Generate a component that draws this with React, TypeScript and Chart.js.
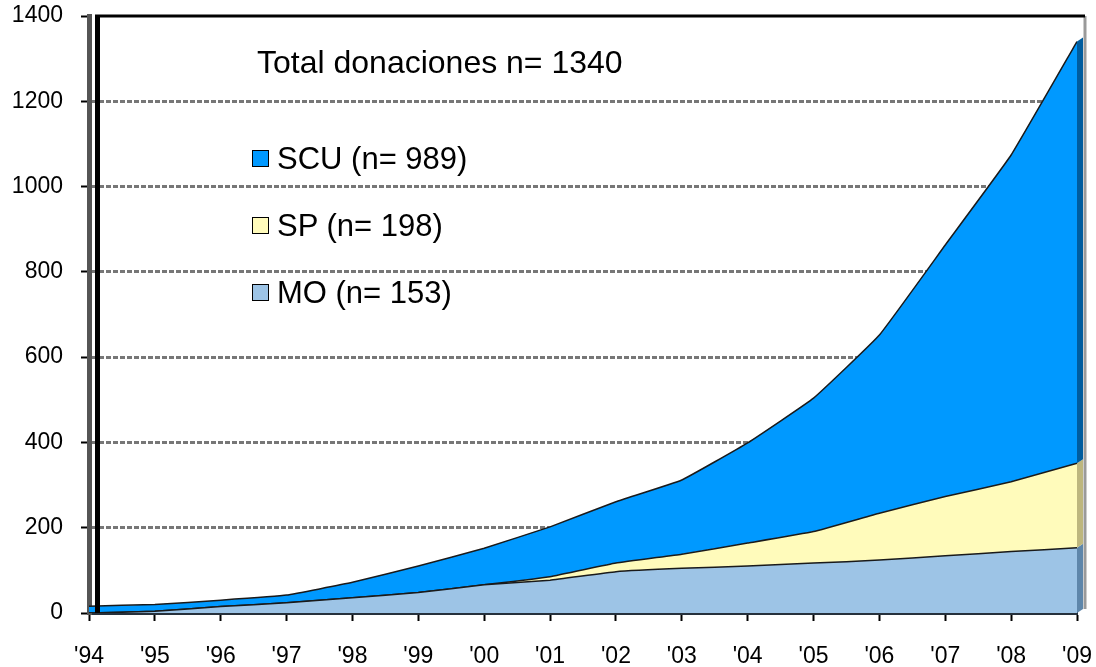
import React, { useEffect, useRef } from "react";
import { Chart, registerables } from "chart.js";

Chart.register(...registerables);

const years = ["'94", "'95", "'96", "'97", "'98", "'99", "'00", "'01", "'02", "'03", "'04", "'05", "'06", "'07", "'08", "'09"];
const moValues = [0, 4, 15, 24, 36, 48, 66, 77, 97, 105, 110, 117, 124, 134, 144, 153];
const spValues = [0, 0, 0, 0, 0, 0, 0, 8, 20, 33, 54, 74, 110, 139, 164, 198];
const scuValues = [16, 16, 15, 18, 36, 62, 86, 117, 144, 174, 235, 313, 418, 590, 766, 989];

const seriesLabels = ["MO (n= 153)", "SP (n= 198)", "SCU (n= 989)"];
const titleText = "Total donaciones n= 1340";
const yMax = 1400;
const yStep = 200;

const fillColors = ["#9DC4E6", "#FFFBBB", "#0099FF"];
const sideColors = ["#5E86AA", "#BDB67E", "#005C9E"];

const FONT = "'Liberation Sans', Arial, sans-serif";

const framePlugin = {
  id: "frame",
  afterDatasetsDraw(chart: any) {
    const { ctx, chartArea, scales } = chart;
    const { left, right, top, bottom } = chartArea;
    const y = scales.y;
    ctx.save();
    const last = years.length - 1;
    const layers = [moValues, spValues, scuValues];
    let base = 0;
    const d = 6;
    layers.forEach((arr, i) => {
      const topVal = base + arr[last];
      const yb = y.getPixelForValue(base);
      const yt = y.getPixelForValue(topVal);
      ctx.fillStyle = sideColors[i];
      ctx.beginPath();
      ctx.moveTo(right, yb);
      ctx.lineTo(right, yt);
      ctx.lineTo(right + d, yt - 4);
      ctx.lineTo(right + d, yb - 4);
      ctx.closePath();
      ctx.fill();
      base = topVal;
    });
    ctx.strokeStyle = "#9a9a9a";
    ctx.lineWidth = 3;
    ctx.beginPath();
    ctx.moveTo(right + 8, top);
    ctx.lineTo(right + 8, bottom - 4);
    ctx.stroke();
    ctx.strokeStyle = "#000";
    ctx.lineWidth = 3;
    ctx.beginPath();
    ctx.moveTo(left + 6, top);
    ctx.lineTo(right + 8, top);
    ctx.stroke();
    ctx.lineWidth = 5;
    ctx.beginPath();
    ctx.moveTo(left + 8.5, top - 1);
    ctx.lineTo(left + 8.5, bottom);
    ctx.stroke();
    ctx.restore();
  },
};

export default function App() {
  const canvasRef = useRef<HTMLCanvasElement | null>(null);

  useEffect(() => {
    document.body.style.margin = "0";
    const canvas = canvasRef.current;
    if (!canvas) return;
    const chart = new Chart(canvas, {
      type: "line",
      data: {
        labels: years,
        datasets: [
          {
            label: seriesLabels[0],
            data: moValues,
            backgroundColor: fillColors[0],
            borderColor: "#1a1a1a",
            borderWidth: 1.5,
            fill: "origin",
            pointRadius: 0,
            tension: 0.1,
          },
          {
            label: seriesLabels[1],
            data: spValues,
            backgroundColor: fillColors[1],
            borderColor: "#1a1a1a",
            borderWidth: 1.5,
            fill: "-1",
            pointRadius: 0,
            tension: 0.1,
          },
          {
            label: seriesLabels[2],
            data: scuValues,
            backgroundColor: fillColors[2],
            borderColor: "#1a1a1a",
            borderWidth: 1.5,
            fill: "-1",
            pointRadius: 0,
            tension: 0.1,
          },
        ],
      },
      options: {
        responsive: false,
        animation: false,
        layout: { padding: { top: 16, right: 19, left: 0, bottom: 0 } },
        plugins: {
          legend: { display: false },
          tooltip: { enabled: false },
          title: { display: false },
        },
        scales: {
          x: {
            offset: false,
            grid: {
              drawOnChartArea: false,
              drawTicks: true,
              tickLength: 8,
              tickColor: "#000",
              tickWidth: 2,
            },
            border: { display: true, color: "#26313c", width: 4 },
            ticks: {
              color: "#000",
              font: { family: FONT, size: 23 },
              padding: 22,
              maxRotation: 0,
              autoSkip: false,
            },
            afterFit(scale: any) {
              scale.height = 54;
              scale.paddingLeft = 0;
              scale.paddingRight = 0;
              scale.paddingTop = 0;
              scale.paddingBottom = 0;
            },
          },
          y: {
            stacked: true,
            min: 0,
            max: yMax,
            grid: {
              color: (c: any) => {
                const v = c.tick ? c.tick.value : 0;
                return v === 0 || v === yMax ? "rgba(0,0,0,0)" : "#777777";
              },
              lineWidth: 3,
              tickColor: "#000",
              tickLength: 8,
              tickWidth: 2,
            },
            border: { display: true, color: "#555", width: 5, dash: [5, 2] },
            ticks: {
              stepSize: yStep,
              color: "#000",
              font: { family: FONT, size: 23 },
              padding: 18,
              callback: (v: any) => String(v),
            },
            afterFit(scale: any) {
              scale.width = 89;
              scale.paddingLeft = 0;
              scale.paddingRight = 0;
              scale.paddingTop = 0;
              scale.paddingBottom = 0;
            },
          },
        },
      },
      plugins: [framePlugin],
    } as any);
    return () => chart.destroy();
  }, []);

  const textStyle = (size: number): React.CSSProperties => ({
    position: "absolute",
    fontFamily: FONT,
    fontSize: size,
    lineHeight: `${size}px`,
    color: "#000",
    whiteSpace: "nowrap",
  });
  const boxStyle = (color: string, top: number): React.CSSProperties => ({
    position: "absolute",
    left: 252,
    top,
    width: 15,
    height: 15,
    background: color,
    border: "1px solid #000",
  });

  return (
    <div style={{ position: "absolute", left: 0, top: 0, width: 1096, height: 667, background: "#fff" }}>
      <canvas ref={canvasRef} width={1096} height={667} style={{ display: "block" }} />
      <div style={{ ...textStyle(32), left: 257, top: 46 }}>{titleText}</div>
      <div style={boxStyle(fillColors[2], 150)} />
      <div style={{ ...textStyle(31), left: 277, top: 143 }}>{seriesLabels[2]}</div>
      <div style={boxStyle(fillColors[1], 217)} />
      <div style={{ ...textStyle(31), left: 277, top: 210 }}>{seriesLabels[1]}</div>
      <div style={boxStyle(fillColors[0], 284)} />
      <div style={{ ...textStyle(31), left: 277, top: 277 }}>{seriesLabels[0]}</div>
    </div>
  );
}
